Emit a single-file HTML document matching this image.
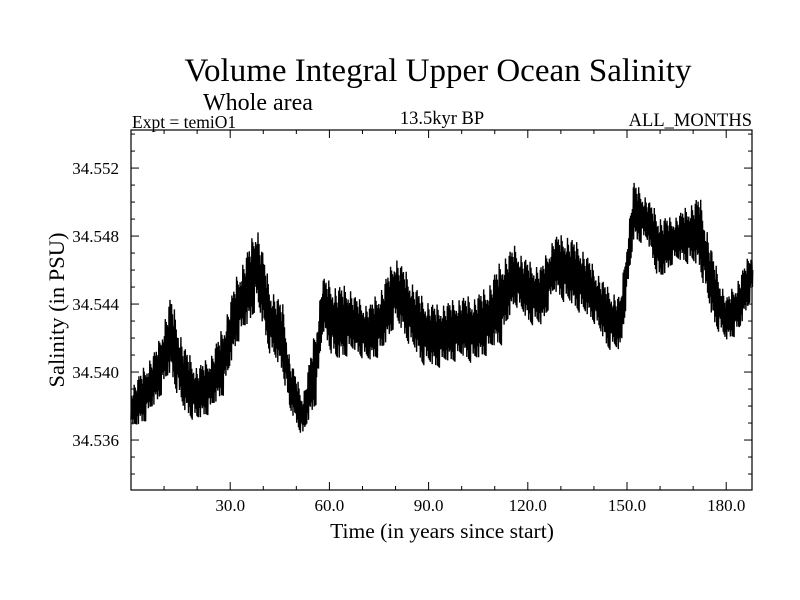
<!DOCTYPE html>
<html><head><meta charset="utf-8"><style>
body{margin:0;background:#fff}
svg{display:block;font-family:"Liberation Serif",serif}
</style></head><body>
<svg id="chart" width="800" height="600">
<text x="438" y="81" font-size="33" text-anchor="middle">Volume Integral Upper Ocean Salinity</text>
<text x="203" y="110" font-size="24">Whole area</text>
<text x="132" y="128" font-size="17.5">Expt = temiO1</text>
<text x="442" y="124" font-size="18.5" text-anchor="middle">13.5kyr BP</text>
<text x="752" y="126" font-size="18.5" text-anchor="end">ALL_MONTHS</text>
<text x="442" y="538" font-size="21.5" text-anchor="middle">Time (in years since start)</text>
<text transform="translate(64,310) rotate(-90)" font-size="22.5" text-anchor="middle">Salinity (in PSU)</text>
<g id="ticks"></g>
<g id="series"></g>
<rect x="131" y="130" width="621" height="360" fill="none" stroke="#000" stroke-width="1.2"/>
</svg>
<script>
const years=[0,4,8,12,16,20,24,28,32,36,38,42,46,48,52,56,58,62,66,68,72,76,80,84,88,92,96,100,104,108,112,116,120,124,128,132,136,140,144,148,152,156,160,164,168,172,176,180,184,188];
const hiVals=[34.5389,34.5401,34.5413,34.5442,34.5413,34.5401,34.5407,34.5425,34.5454,34.5472,34.5485,34.5448,34.5437,34.5407,34.5384,34.5425,34.5454,34.5448,34.5448,34.5442,34.5437,34.5448,34.5466,34.5454,34.5442,34.5437,34.5439,34.5442,34.5442,34.5448,34.5463,34.5472,34.5463,34.5460,34.5478,34.5478,34.5472,34.5460,34.5448,34.5442,34.5510,34.5501,34.5489,34.5489,34.5495,34.5501,34.5466,34.5442,34.5454,34.5472];
const loVals=[34.5366,34.5372,34.5384,34.5401,34.5378,34.5372,34.5378,34.5389,34.5419,34.5431,34.5442,34.5413,34.5401,34.5378,34.5363,34.5384,34.5425,34.5407,34.5413,34.5413,34.5407,34.5413,34.5431,34.5419,34.5407,34.5404,34.5407,34.5410,34.5407,34.5413,34.5419,34.5442,34.5431,34.5428,34.5448,34.5442,34.5437,34.5431,34.5416,34.5413,34.5478,34.5478,34.5454,34.5466,34.5466,34.5463,34.5431,34.5419,34.5425,34.5448];
const xTickVals=[30,60,90,120,150,180];
const xTickLabels=["30.0","60.0","90.0","120.0","150.0","180.0"];
const yTickVals=[34.536,34.540,34.544,34.548,34.552];
const yTickLabels=["34.536","34.540","34.544","34.548","34.552"];

const X0=131,X1=752,Y0=130,Y1=490;
const xMin=0,xMax=187.8,yMin=34.53306,yMax=34.55424;
const sx=v=>X0+(v-xMin)/(xMax-xMin)*(X1-X0);
const sy=v=>Y1-(v-yMin)/(yMax-yMin)*(Y1-Y0);
const NS="http://www.w3.org/2000/svg";
const tg=document.getElementById('ticks');
function line(x1,y1,x2,y2,name){const l=document.createElementNS(NS,'line');l.setAttribute('x1',x1);l.setAttribute('y1',y1);l.setAttribute('x2',x2);l.setAttribute('y2',y2);l.setAttribute('stroke','#000');l.setAttribute('stroke-width','1');


tg.appendChild(l);}
function text(x,y,s,anchor,name){const t=document.createElementNS(NS,'text');t.setAttribute('x',x);t.setAttribute('y',y);t.setAttribute('font-size','17');t.setAttribute('text-anchor',anchor);t.textContent=s;


tg.appendChild(t);}
for(let v=10;v<xMax;v+=10){const x=sx(v);const major=v%30===0;const L=major?8:4;line(x,Y1,x,Y1-L,'x-tick');line(x,Y0,x,Y0+L,'x-tick-top');}
xTickVals.forEach((v,i)=>text(sx(v),Y1+21,xTickLabels[i],'middle','x-tick-label'));
for(let k=34534;k<=34554;k++){const v=k/1000;const y=sy(v);if(y<Y0||y>Y1)continue;const major=(k-34536)%4===0;const L=major?8:4;line(X0,y,X0+L,y,'y-tick');line(X1,y,X1-L,y,'y-tick-right');}
yTickVals.forEach((v,i)=>text(119,sy(v)+6,yTickLabels[i],'end','y-tick-label'));

// series: irregular dense zig-zag between read envelope values
const pattern=[1.1,0.7,0.9,0.5,1.0,0.6,0.8,1.05,0.55,0.85,1.15,0.65,0.95,0.5,0.75,1.0,0.6];
let pts=[];let flip=0;
for(let i=0;i<years.length-1;i++){
  const a=years[i],b=years[i+1];
  for(let t=a;t<b;t+=0.14){
    const f=(t-a)/(b-a);
    const hi=hiVals[i]+(hiVals[i+1]-hiVals[i])*f;
    const lo=loVals[i]+(loVals[i+1]-loVals[i])*f;
    const mid=(hi+lo)/2, half=(hi-lo)/2;
    const amp=pattern[flip%pattern.length];
    const amp2=pattern[(flip*5+3)%pattern.length];
    const v=flip%2?mid+half*amp:mid-half*amp2;
    flip++;
    pts.push(sx(t).toFixed(1)+','+sy(v).toFixed(1));
  }
}
const n=years.length-1;pts.push(sx(years[n]).toFixed(1)+','+sy((hiVals[n]+loVals[n])/2).toFixed(1));
const pl=document.createElementNS(NS,'polyline');
pl.setAttribute('points',pts.join(' '));
pl.setAttribute('fill','none');pl.setAttribute('stroke','#000');pl.setAttribute('stroke-width','1.4');


document.getElementById('series').appendChild(pl);
</script>
</body></html>
